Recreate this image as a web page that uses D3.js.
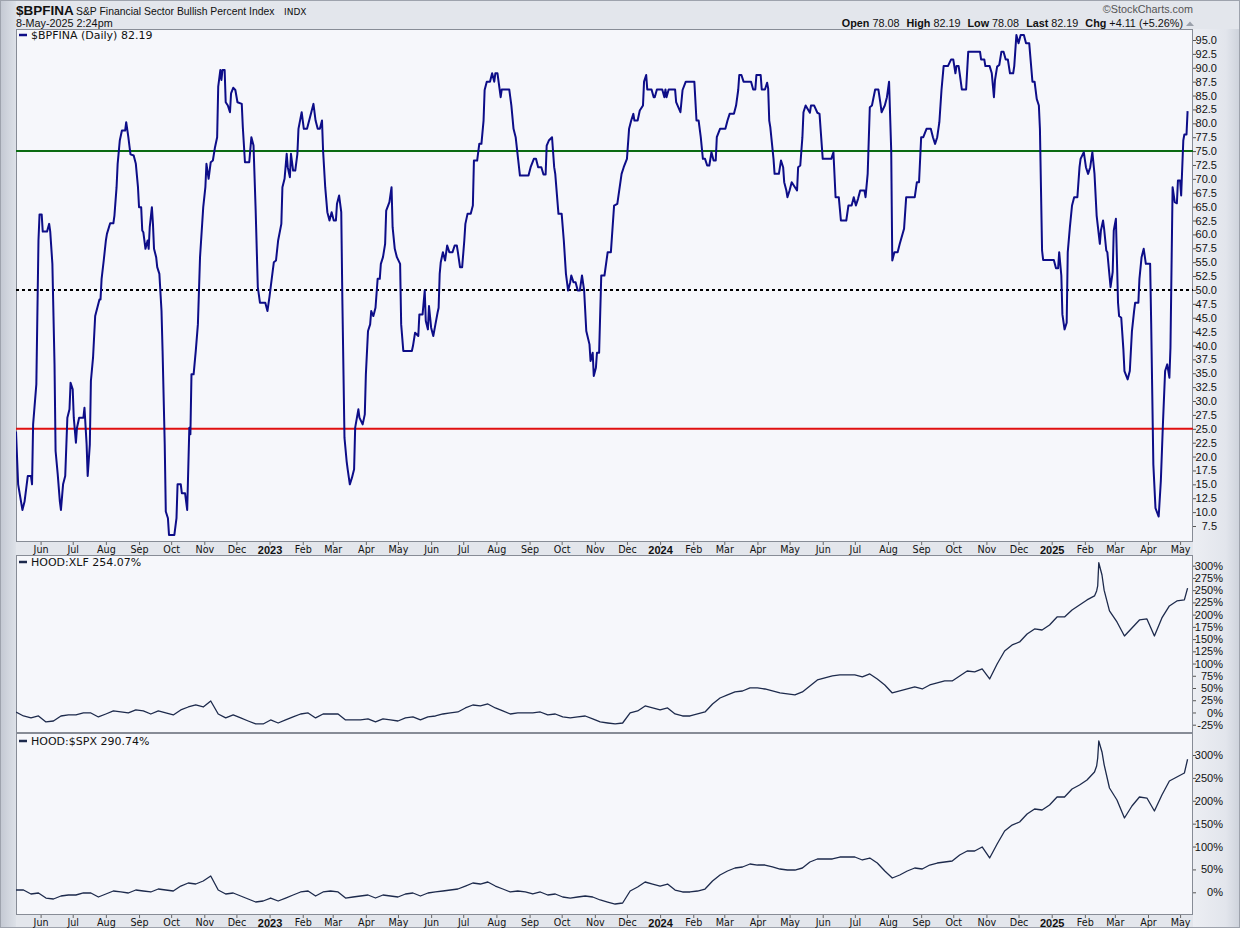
<!DOCTYPE html>
<html><head><meta charset="utf-8">
<script src="https://cdn.jsdelivr.net/npm/d3@7"></script>
<style>
html,body{margin:0;padding:0;background:#dfe2e9;}
svg{display:block;}
</style></head><body>
<svg id="chart" width="1240" height="928"></svg>
<script>
// ---------------- DATA ----------------
const bp2022 = [
["2022-05-09",24.5],["2022-05-11",15.0],["2022-05-15",10.4],["2022-05-17",11.9],["2022-05-20",16.5],["2022-05-23",16.5],["2022-05-24",15.0],["2022-05-25",25.8],["2022-05-28",33.0],["2022-05-30",58.9],["2022-05-31",63.6],
["2022-06-02",63.6],["2022-06-03",60.5],["2022-06-07",60.5],["2022-06-09",61.9],["2022-06-10",60.5],["2022-06-12",54.7],["2022-06-14",36.6],["2022-06-15",21.0],["2022-06-17",16.8],["2022-06-19",11.9],["2022-06-20",10.4],["2022-06-22",15.0],["2022-06-24",16.5],["2022-06-26",27.0],["2022-06-28",28.5],["2022-06-29",33.3],
["2022-07-01",32.1],["2022-07-02",27.0],["2022-07-04",22.5],["2022-07-05",25.2],["2022-07-07",27.0],["2022-07-11",27.0],["2022-07-12",28.8],["2022-07-14",22.2],["2022-07-15",16.5],["2022-07-17",22.2],["2022-07-18",33.6],["2022-07-20",37.8],["2022-07-22",45.3],["2022-07-24",46.8],["2022-07-26",48.3],["2022-07-27",48.3],["2022-07-28",52.0],["2022-07-30",55.3],
["2022-08-01",58.9],["2022-08-02",60.1],["2022-08-05",62.0],["2022-08-08",62.0],["2022-08-09",63.4],["2022-08-11",68.5],["2022-08-12",72.7],["2022-08-14",76.9],["2022-08-16",78.7],["2022-08-19",78.7],["2022-08-20",80.2],["2022-08-22",77.5],["2022-08-24",74.4],["2022-08-27",74.2],["2022-08-29",72.7],["2022-08-31",68.5],
["2022-09-01",64.9],["2022-09-03",64.9],["2022-09-04",60.7],["2022-09-05",60.4],["2022-09-07",57.4],["2022-09-09",58.9],["2022-09-10",57.4],["2022-09-11",61.3],["2022-09-13",64.9],["2022-09-14",61.9],["2022-09-15",57.4],["2022-09-17",55.9],["2022-09-18",54.1],["2022-09-20",52.9],["2022-09-22",46.2],["2022-09-23",39.0],["2022-09-25",22.2],["2022-09-26",10.1],["2022-09-28",8.9],["2022-09-29",5.9],
["2022-10-04",5.9],["2022-10-06",8.9],["2022-10-07",15.0],["2022-10-10",15.0],["2022-10-11",13.4],["2022-10-14",13.4],["2022-10-16",10.4],["2022-10-18",25.2],["2022-10-19",24.0],["2022-10-20",34.8],["2022-10-22",34.8],["2022-10-24",39.0],["2022-10-26",43.8],["2022-10-28",55.9],["2022-10-29",58.9],["2022-10-31",64.9],
["2022-11-02",68.5],["2022-11-03",72.7],["2022-11-05",70.0],["2022-11-07",73.0],["2022-11-09",73.3],["2022-11-11",75.7],["2022-11-13",77.5],["2022-11-14",86.6],["2022-11-16",89.6],["2022-11-17",87.8],["2022-11-18",89.6],["2022-11-20",89.6],["2022-11-21",83.8],["2022-11-23",83.2],["2022-11-25",82.0],["2022-11-26",85.4],["2022-11-28",86.4],["2022-11-30",86.0],
["2022-12-02",83.8],["2022-12-06",83.5],["2022-12-07",79.3],["2022-12-09",73.0],["2022-12-13",73.0],["2022-12-15",77.5],["2022-12-17",76.0],["2022-12-19",64.3],["2022-12-21",50.5],["2022-12-23",47.7],["2022-12-28",47.7],["2022-12-30",46.2]
];
const bp2023 = [
["2023-01-01",48.9],["2023-01-03",52.0],["2023-01-05",55.0],["2023-01-07",55.3],["2023-01-09",58.9],["2023-01-12",61.9],["2023-01-13",68.5],["2023-01-15",70.0],["2023-01-17",74.5],["2023-01-18",72.1],["2023-01-20",70.3],["2023-01-21",74.5],["2023-01-23",71.5],["2023-01-25",71.5],["2023-01-27",74.5],["2023-01-28",79.0],["2023-01-31",82.0],
["2023-02-02",79.0],["2023-02-05",79.0],["2023-02-07",80.5],["2023-02-09",82.0],["2023-02-11",83.5],["2023-02-13",80.5],["2023-02-15",79.0],["2023-02-17",79.0],["2023-02-19",80.5],["2023-02-20",75.1],["2023-02-22",68.5],["2023-02-24",64.0],["2023-02-26",62.5],["2023-02-28",64.0],
["2023-03-02",62.5],["2023-03-04",62.5],["2023-03-05",65.5],["2023-03-07",67.0],["2023-03-09",64.0],["2023-03-10",48.6],["2023-03-12",23.4],["2023-03-14",19.2],["2023-03-15",17.7],["2023-03-17",15.0],["2023-03-19",16.2],["2023-03-21",17.7],["2023-03-22",25.2],["2023-03-25",28.5],["2023-03-26",27.0],["2023-03-29",25.8],["2023-03-31",27.6],
["2023-04-01",34.8],["2023-04-03",42.6],["2023-04-05",43.8],["2023-04-06",46.2],["2023-04-08",45.3],["2023-04-10",46.8],["2023-04-12",52.0],["2023-04-14",52.0],["2023-04-15",54.7],["2023-04-17",55.9],["2023-04-19",58.3],["2023-04-20",64.3],["2023-04-23",65.8],["2023-04-25",68.5],["2023-04-26",61.3],["2023-04-28",57.4],["2023-04-30",55.9],
["2023-05-03",54.7],["2023-05-04",43.8],["2023-05-06",39.0],["2023-05-14",39.0],["2023-05-15",39.9],["2023-05-17",42.3],["2023-05-20",41.7],["2023-05-21",45.6],["2023-05-24",45.6],["2023-05-26",49.9],["2023-05-27",44.4],["2023-05-29",42.9],["2023-05-30",47.1],
["2023-06-01",43.2],["2023-06-03",41.7],["2023-06-05",43.8],["2023-06-07",45.9],["2023-06-08",46.8],["2023-06-09",52.9],["2023-06-10",55.0],["2023-06-12",56.8],["2023-06-14",55.3],["2023-06-16",58.0],["2023-06-18",56.8],["2023-06-21",56.8],["2023-06-23",58.0],["2023-06-25",58.0],["2023-06-26",56.8],["2023-06-28",54.1],["2023-06-30",54.1],
["2023-07-02",58.9],["2023-07-03",61.9],["2023-07-05",63.7],["2023-07-08",63.7],["2023-07-10",65.2],["2023-07-11",73.3],["2023-07-14",73.3],["2023-07-16",76.3],["2023-07-18",76.3],["2023-07-20",80.5],["2023-07-21",86.0],["2023-07-23",87.5],["2023-07-26",87.5],["2023-07-28",89.0],["2023-07-30",87.5],["2023-07-31",89.0],
["2023-08-02",89.0],["2023-08-05",84.7],["2023-08-06",86.1],["2023-08-13",86.1],["2023-08-15",83.2],["2023-08-17",79.0],["2023-08-19",77.5],["2023-08-23",70.6],["2023-08-31",70.6],
["2023-09-02",72.1],["2023-09-05",73.6],["2023-09-07",73.6],["2023-09-09",72.1],["2023-09-12",72.1],["2023-09-14",70.8],["2023-09-16",70.8],["2023-09-17",76.0],["2023-09-19",76.9],["2023-09-22",77.5],["2023-09-24",72.1],["2023-09-25",70.9],["2023-09-28",63.7],
["2023-10-01",63.7],["2023-10-03",58.9],["2023-10-05",52.9],["2023-10-07",49.9],["2023-10-09",51.4],["2023-10-10",52.6],["2023-10-12",51.4],["2023-10-14",51.4],["2023-10-16",49.9],["2023-10-18",49.9],["2023-10-20",52.6],["2023-10-22",49.9],["2023-10-24",42.6],["2023-10-27",40.2],["2023-10-28",37.2],["2023-10-30",38.7],["2023-10-31",34.5],
["2023-11-02",36.0],["2023-11-03",38.7],["2023-11-05",38.7],["2023-11-07",52.6],["2023-11-10",52.6],["2023-11-13",56.8],["2023-11-16",56.8],["2023-11-19",65.2],["2023-11-22",65.5],["2023-11-26",70.9],["2023-11-28",72.1],
["2023-12-01",73.6],["2023-12-03",79.0],["2023-12-05",80.5],["2023-12-07",81.7],["2023-12-08",80.5],["2023-12-11",80.5],["2023-12-13",82.3],["2023-12-16",83.2],["2023-12-17",87.5],["2023-12-19",88.7],["2023-12-20",86.1],["2023-12-24",86.1],["2023-12-26",84.7],["2023-12-27",84.7],["2023-12-29",86.1]
];
const bp2024 = [
["2024-01-03",86.1],["2024-01-05",84.7],["2024-01-06",86.1],["2024-01-07",84.7],["2024-01-09",86.1],["2024-01-15",86.1],["2024-01-16",83.8],["2024-01-20",82.0],["2024-01-22",86.0],["2024-01-25",87.5],
["2024-02-02",87.5],["2024-02-04",80.5],["2024-02-06",80.5],["2024-02-08",77.5],["2024-02-10",73.6],["2024-02-12",73.6],["2024-02-14",72.4],["2024-02-16",72.4],["2024-02-18",74.8],["2024-02-20",73.3],["2024-02-22",73.3],["2024-02-23",77.5],["2024-02-26",79.0],
["2024-03-02",79.0],["2024-03-04",80.5],["2024-03-06",81.7],["2024-03-10",81.7],["2024-03-12",83.2],["2024-03-14",86.0],["2024-03-15",88.7],["2024-03-17",88.7],["2024-03-19",87.5],["2024-03-26",87.5],["2024-03-28",86.1],["2024-03-30",86.1],["2024-03-31",88.7],
["2024-04-04",88.7],["2024-04-05",86.1],["2024-04-08",86.1],["2024-04-10",87.3],["2024-04-11",86.3],["2024-04-12",80.5],["2024-04-13",79.3],["2024-04-16",73.6],["2024-04-17",70.9],["2024-04-21",70.9],["2024-04-23",73.3],["2024-04-25",72.1],["2024-04-26",69.4],["2024-04-28",67.9],["2024-04-29",66.7],
["2024-05-01",67.9],["2024-05-03",69.4],["2024-05-08",67.9],["2024-05-09",72.1],["2024-05-11",72.4],["2024-05-13",77.5],["2024-05-14",82.0],["2024-05-16",83.2],["2024-05-20",81.9],["2024-05-21",83.2],["2024-05-24",83.2],["2024-05-27",81.9],["2024-05-29",81.7],
["2024-06-01",73.6],["2024-06-09",73.6],["2024-06-11",74.8],["2024-06-13",66.7],["2024-06-16",66.7],["2024-06-18",62.5],["2024-06-23",62.5],["2024-06-25",65.2],["2024-06-28",65.2],["2024-06-30",66.7],
["2024-07-02",65.2],["2024-07-04",66.4],["2024-07-06",67.9],["2024-07-10",67.9],["2024-07-11",66.7],["2024-07-13",70.9],["2024-07-15",82.9],["2024-07-17",83.2],["2024-07-20",86.1],["2024-07-23",86.1],["2024-07-25",83.5],["2024-07-26",82.0],["2024-07-29",83.2],["2024-07-31",84.7],
["2024-08-02",87.5],["2024-08-04",75.1],["2024-08-05",55.3],["2024-08-07",56.8],["2024-08-10",56.8],["2024-08-12",58.3],["2024-08-16",61.0],["2024-08-18",66.7],["2024-08-26",66.7],["2024-08-28",69.4],["2024-08-30",69.4],
["2024-09-01",77.5],["2024-09-03",77.5],["2024-09-06",79.0],["2024-09-10",79.0],["2024-09-12",77.5],["2024-09-14",76.3],["2024-09-16",77.5],["2024-09-18",80.2],["2024-09-20",86.0],["2024-09-22",90.3],["2024-09-26",90.3],["2024-09-29",91.5],
["2024-10-01",91.5],["2024-10-03",89.0],["2024-10-04",90.3],["2024-10-06",90.3],["2024-10-07",89.0],["2024-10-09",86.1],["2024-10-13",86.1],["2024-10-15",92.9],["2024-10-26",92.9],["2024-10-27",91.5],["2024-10-30",91.5],["2024-10-31",90.3],
["2024-11-04",90.3],["2024-11-06",89.0],["2024-11-08",84.7],["2024-11-09",87.8],["2024-11-11",90.2],["2024-11-13",90.5],["2024-11-15",92.9],["2024-11-17",92.9],["2024-11-19",91.5],["2024-11-21",91.5],["2024-11-23",89.0],["2024-11-26",89.0],["2024-11-27",90.3],["2024-11-29",95.9],
["2024-12-01",94.4],["2024-12-03",95.9],["2024-12-06",95.9],["2024-12-08",94.4],["2024-12-11",94.4],["2024-12-14",87.5],["2024-12-16",87.5],["2024-12-18",84.4],["2024-12-20",83.2],["2024-12-21",79.0],["2024-12-23",57.1],["2024-12-24",55.4]
];
const bp2025 = [
["2025-01-03",55.4],["2025-01-05",53.9],["2025-01-07",53.9],["2025-01-08",56.8],["2025-01-10",52.6],["2025-01-11",45.6],["2025-01-13",42.9],["2025-01-15",44.1],["2025-01-16",56.8],["2025-01-18",61.3],["2025-01-20",65.2],["2025-01-22",66.7],["2025-01-25",66.7],["2025-01-27",72.1],["2025-01-28",73.6],["2025-01-31",74.8],
["2025-02-02",72.1],["2025-02-04",70.9],["2025-02-06",72.1],["2025-02-08",74.8],["2025-02-10",70.9],["2025-02-12",63.4],["2025-02-15",58.3],["2025-02-16",60.7],["2025-02-18",62.5],["2025-02-19",61.0],["2025-02-21",57.1],["2025-02-22",56.8],["2025-02-24",52.6],["2025-02-25",50.5],["2025-02-27",53.2],["2025-02-28",60.7],
["2025-03-02",62.8],["2025-03-04",47.7],["2025-03-05",45.3],["2025-03-07",45.0],["2025-03-09",39.3],["2025-03-10",35.4],["2025-03-13",33.9],["2025-03-15",35.4],["2025-03-17",42.6],["2025-03-19",46.2],["2025-03-20",47.7],["2025-03-23",47.7],["2025-03-24",52.0],["2025-03-26",55.9],["2025-03-28",57.4],["2025-03-30",54.7],
["2025-04-03",54.7],["2025-04-04",43.8],["2025-04-06",18.6],["2025-04-08",10.7],["2025-04-11",9.2],["2025-04-13",15.6],["2025-04-15",26.1],["2025-04-17",35.4],["2025-04-19",36.6],["2025-04-21",34.2],["2025-04-22",39.6],["2025-04-24",68.5],["2025-04-26",65.8],["2025-04-28",65.6],["2025-04-29",69.7],
["2025-05-01",69.7],["2025-05-02",67.0],["2025-05-04",76.9],["2025-05-05",78.0],["2025-05-07",78.0],["2025-05-08",82.19]
];

// weekly sample dates for the two HOOD ratio panels
const ratioDates = [
"2022-05-09","2022-05-16","2022-05-23","2022-05-30","2022-06-06","2022-06-13","2022-06-20","2022-06-27","2022-07-04","2022-07-11","2022-07-18","2022-07-25","2022-08-01","2022-08-08","2022-08-15","2022-08-22","2022-08-29","2022-09-05","2022-09-12","2022-09-19","2022-09-26","2022-10-03","2022-10-10","2022-10-17","2022-10-24","2022-10-31","2022-11-07","2022-11-14","2022-11-21","2022-11-28","2022-12-05","2022-12-12","2022-12-19","2022-12-26",
"2023-01-02","2023-01-09","2023-01-16","2023-01-23","2023-01-30","2023-02-06","2023-02-13","2023-02-20","2023-02-27","2023-03-06","2023-03-13","2023-03-20","2023-03-27","2023-04-03","2023-04-10","2023-04-17","2023-04-24","2023-05-01","2023-05-08","2023-05-15","2023-05-22","2023-05-29","2023-06-05","2023-06-12","2023-06-19","2023-06-26","2023-07-03","2023-07-10","2023-07-17","2023-07-24","2023-07-31","2023-08-07","2023-08-14","2023-08-21","2023-08-28","2023-09-04","2023-09-11","2023-09-18","2023-09-25","2023-10-02","2023-10-09","2023-10-16","2023-10-23","2023-10-30","2023-11-06","2023-11-13","2023-11-20","2023-11-27","2023-12-04","2023-12-11","2023-12-18","2023-12-25",
"2024-01-01","2024-01-08","2024-01-15","2024-01-22","2024-01-29","2024-02-05","2024-02-12","2024-02-19","2024-02-26","2024-03-04","2024-03-11","2024-03-18","2024-03-25","2024-04-01","2024-04-08","2024-04-15","2024-04-22","2024-04-29","2024-05-06","2024-05-13","2024-05-20","2024-05-27","2024-06-03","2024-06-10","2024-06-17","2024-06-24","2024-07-01","2024-07-08","2024-07-15","2024-07-22","2024-07-29","2024-08-05","2024-08-12","2024-08-19","2024-08-26","2024-09-02","2024-09-09","2024-09-16","2024-09-23","2024-09-30","2024-10-07","2024-10-14","2024-10-21","2024-10-28","2024-11-04","2024-11-11","2024-11-18","2024-11-25","2024-12-02","2024-12-09","2024-12-16","2024-12-23","2024-12-30",
"2025-01-06","2025-01-13","2025-01-20","2025-01-27","2025-02-03","2025-02-10","2025-02-12","2025-02-13","2025-02-14","2025-02-17","2025-02-19","2025-02-24","2025-03-03","2025-03-10","2025-03-17","2025-03-24","2025-03-31","2025-04-07","2025-04-14","2025-04-21","2025-04-28","2025-05-05","2025-05-08"
];
const hoodXlf = [
1.0,-7.2,-11.2,-7.2,-19.4,-17.4,-7.2,-5.1,-5.1,-1.0,
-1.0,-9.2,-3.1,3.1,1.0,-1.0,5.1,3.1,-3.1,3.1,
-1.0,-5.1,5.1,11.2,15.3,11.2,23.5,-3.1,-11.2,-5.1,
-11.2,-17.4,-23.5,-23.5,-15.3,-21.5,-15.3,-9.2,-3.1,-1.0,
-11.2,-3.1,-3.1,-3.1,-15.3,-15.3,-15.3,-13.3,-19.4,-13.3,
-15.3,-17.4,-11.2,-9.2,-15.3,-9.2,-7.2,-3.1,-1.0,1.0,
9.2,15.3,13.3,17.4,9.2,3.1,-3.1,-1.0,-1.0,-1.0,
1.0,-5.1,-3.1,-9.2,-11.2,-9.2,-7.2,-13.3,-19.4,-21.5,
-23.5,-21.5,-1.0,3.1,13.3,9.2,5.1,9.2,-3.1,-7.2,
-7.2,-3.1,1.0,17.4,29.6,35.8,41.9,43.9,50.1,50.1,
48.0,43.9,39.9,37.8,35.8,41.9,54.2,66.4,70.5,74.6,
76.7,76.7,76.7,72.6,78.7,68.5,56.2,39.9,43.9,48.0,
52.1,48.0,56.2,60.3,64.4,64.4,74.6,84.8,82.8,88.9,
68.5,99.1,125.7,138.0,144.1,160.5,170.7,168.6,178.9,195.2,
195.2,209.5,219.7,230.0,238.2,248.4,258.6,306.0,281.0,250.0,
207.5,185.0,156.4,172.7,189.1,191.1,156.4,193.2,217.7,227.9,230.0,
254.07
];
const hoodSpx = [
5.0,5.0,-3.7,-1.5,-12.5,-14.6,-8.1,-5.9,-5.9,-1.5,
-1.5,-10.3,-3.7,2.8,0.7,-1.5,5.0,2.8,0.7,7.2,
5.0,2.8,13.7,20.3,18.1,24.7,35.6,5.0,-3.7,-1.5,
-8.1,-14.6,-21.2,-19.0,-12.5,-19.0,-12.5,-5.9,0.7,2.8,
-8.1,0.7,2.8,0.7,-12.5,-10.3,-8.1,-5.9,-12.5,-5.9,
-8.1,-10.3,-3.7,-1.5,-8.1,-1.5,0.7,2.8,5.0,7.2,
13.7,20.3,18.1,22.5,13.7,7.2,0.7,2.8,0.7,-3.7,
0.7,-5.9,-3.7,-10.3,-12.5,-10.3,-8.1,-10.3,-16.8,-21.2,
-25.6,-23.4,2.8,11.6,22.5,18.1,13.7,18.1,5.0,0.7,
0.7,2.8,7.2,24.7,37.8,46.5,53.1,55.3,61.8,59.6,
59.6,55.3,50.9,48.7,48.7,53.1,66.2,72.8,72.8,72.8,
77.1,77.1,77.1,70.6,74.9,64.0,46.5,31.2,37.8,46.5,
53.1,50.9,59.6,64.0,66.2,68.4,81.5,90.2,90.2,99.0,
75.0,105.5,133.9,147.0,153.6,171.1,182.0,179.8,190.7,208.2,
208.2,225.7,234.4,245.4,262.8,276.0,293.4,330.6,306.6,279.0,
227.9,201.7,162.3,188.6,208.2,206.0,177.6,212.6,243.2,251.9,260.6,
290.74
];

const bpTicks = [7.5,10,12.5,15,17.5,20,22.5,25,27.5,30,32.5,35,37.5,40,42.5,45,47.5,50,52.5,55,57.5,60,62.5,65,67.5,70,72.5,75,77.5,80,82.5,85,87.5,90,92.5,95];
const xlfTicks = [-25,0,25,50,75,100,125,150,175,200,225,250,275,300];
const spxTicks = [0,50,100,150,200,250,300];
const refLevels = [{v:75,color:"#0b6b12",dash:null},{v:50,color:"#000000",dash:"3,3"},{v:25,color:"#e01010",dash:null}];
const ohlc = [["Open","78.08"],["High","82.19"],["Low","78.08"],["Last","82.19"],["Chg","+4.11 (+5.26%)"]];

// ---------------- LAYOUT ----------------
const parse = d3.timeParse("%Y-%m-%d");
const svg = d3.select("#chart");
const PL = 16, PR = 1193;
const x = d3.scaleTime().domain([parse("2022-05-09"), parse("2025-05-14")]).range([16, 1194]);

const pMain = {top:29, bottom:542};
const pXlf = {top:555, bottom:733};
const pSpx = {top:733, bottom:915};

const yMain = d3.scaleLinear().domain([7.5,95]).range([526,40]);
const yXlf = d3.scaleLinear().domain([-25,300]).range([724.7,565.7]);
const ySpx = d3.scaleLinear().domain([0,300]).range([892.3,755]);

const defs = svg.append("defs");
const gr = defs.append("linearGradient").attr("id","axisbg").attr("x1","0").attr("x2","1").attr("y1","0").attr("y2","0");
gr.append("stop").attr("offset","0").attr("stop-color","#eceef3");
gr.append("stop").attr("offset","0.7").attr("stop-color","#e2e5ec");
gr.append("stop").attr("offset","1").attr("stop-color","#cdd2db");
const gl = defs.append("linearGradient").attr("id","leftbg").attr("x1","0").attr("x2","1");
gl.append("stop").attr("offset","0").attr("stop-color","#c3c8d2");
gl.append("stop").attr("offset","1").attr("stop-color","#dde1e8");

// backgrounds
svg.append("rect").attr("width",1240).attr("height",928).attr("fill","#e3e6ec");
svg.append("rect").attr("x",0).attr("y",0).attr("width",16).attr("height",928).attr("fill","url(#leftbg)");
svg.append("rect").attr("x",1193).attr("y",29).attr("width",47).attr("height",899).attr("fill","url(#axisbg)");
svg.append("rect").attr("x",0.5).attr("y",0.5).attr("width",1239).attr("height",927).attr("fill","none").attr("stroke","#9ea3ad");

[pMain,pXlf,pSpx].forEach((p,i)=>{
  defs.append("clipPath").attr("id","clip"+i).append("rect")
    .attr("x",PL).attr("y",p.top).attr("width",PR-PL).attr("height",p.bottom-p.top);
  svg.append("rect").attr("x",PL+0.5).attr("y",p.top+0.5).attr("width",PR-PL-1).attr("height",p.bottom-p.top-1)
    .attr("fill","#f6f7fb").attr("stroke","#878c96");
});

// header
const FS = "Liberation Sans, Arial, sans-serif";
const FD = "DejaVu Sans, Verdana, sans-serif";
svg.append("text").attr("x",16).attr("y",15).attr("font-family",FS).attr("font-weight","bold").attr("font-size",13.5).attr("fill","#111").text("$BPFINA");
svg.append("text").attr("x",76).attr("y",15).attr("font-family",FS).attr("font-size",10.4).attr("fill","#111").text("S&P Financial Sector Bullish Percent Index");
svg.append("text").attr("x",284).attr("y",15).attr("font-family",FD).attr("font-size",9).attr("fill","#111").text("INDX");
svg.append("text").attr("x",16).attr("y",27).attr("font-family",FS).attr("font-size",10.8).attr("fill","#111").text("8-May-2025 2:24pm");
svg.append("text").attr("x",1193).attr("y",13).attr("text-anchor","end").attr("font-family",FS).attr("font-size",10.8).attr("fill","#555").text("\u00A9StockCharts.com");
const oh = svg.append("text").attr("x",1183).attr("y",27).attr("text-anchor","end").attr("font-family",FS).attr("font-size",10.8).attr("fill","#111");
ohlc.forEach(([k,v],i)=>{
  oh.append("tspan").attr("font-weight","bold").attr("dx", i? 7:0).text(k+" ");
  oh.append("tspan").text(v);
});
svg.append("path").attr("d","M1186,26 L1190,21.5 L1194,26 Z").attr("fill","#9aa0aa");

// reference lines
const gMain = svg.append("g").attr("clip-path","url(#clip0)");
refLevels.forEach(r=>{
  gMain.append("line").attr("x1",PL).attr("x2",PR).attr("y1",yMain(r.v)).attr("y2",yMain(r.v))
    .attr("stroke",r.color).attr("stroke-width",2).attr("stroke-dasharray",r.dash);
});

// main series
const bpSeries = [...bp2022,...bp2023,...bp2024,...bp2025].map(([d,v])=>({date:parse(d),v}));
gMain.append("path").datum(bpSeries)
  .attr("d", d3.line().x(d=>x(d.date)).y(d=>yMain(d.v)))
  .attr("fill","none").attr("stroke","#0d0d88").attr("stroke-width",2).attr("stroke-linejoin","round");

// ratio panels
const rd = ratioDates.map(parse);
const xlfSeries = rd.map((d,i)=>({date:d,v:hoodXlf[i]}));
const spxSeries = rd.map((d,i)=>({date:d,v:hoodSpx[i]}));
svg.append("g").attr("clip-path","url(#clip1)").append("path").datum(xlfSeries)
  .attr("d", d3.line().x(d=>x(d.date)).y(d=>yXlf(d.v)))
  .attr("fill","none").attr("stroke","#1d2a4c").attr("stroke-width",1.3).attr("stroke-linejoin","round");
svg.append("g").attr("clip-path","url(#clip2)").append("path").datum(spxSeries)
  .attr("d", d3.line().x(d=>x(d.date)).y(d=>ySpx(d.v)))
  .attr("fill","none").attr("stroke","#1d2a4c").attr("stroke-width",1.3).attr("stroke-linejoin","round");

// legends
function legend(y, color, txt){
  svg.append("line").attr("x1",19).attr("x2",27).attr("y1",y-4).attr("y2",y-4).attr("stroke",color).attr("stroke-width",2.5);
  svg.append("text").attr("x",31).attr("y",y).attr("font-family",FD).attr("font-size",11).attr("fill","#111").text(txt);
}
legend(39,"#0d0d88","$BPFINA (Daily) 82.19");
legend(566,"#1d2a4c","HOOD:XLF 254.07%");
legend(745,"#1d2a4c","HOOD:$SPX 290.74%");

// right axes
function rightAxis(scale, ticks, fmt, labelX){
  const g = svg.append("g").attr("transform",`translate(${PR},0)`)
    .call(d3.axisRight(scale).tickValues(ticks).tickSize(3).tickFormat(fmt));
  g.select(".domain").remove();
  g.selectAll(".tick line").attr("stroke","#555");
  g.selectAll(".tick text").attr("x",labelX).attr("text-anchor","end")
    .attr("font-family",FS).attr("font-size",11).attr("fill","#111");
}
rightAxis(yMain, bpTicks, d3.format(".1f"), 24);
rightAxis(yXlf, xlfTicks, d=>d+"%", 30);
rightAxis(ySpx, spxTicks, d=>d+"%", 30);

// date axes
const months = d3.timeMonth.range(parse("2022-06-01"), parse("2025-05-14"));
const fmtMonth = d3.timeFormat("%b"), fmtYear = d3.timeFormat("%Y");
function dateAxis(yPos){
  const g = svg.append("g").attr("transform",`translate(0,${yPos})`)
    .call(d3.axisBottom(x).tickValues(months).tickSize(3).tickFormat(d=>d.getMonth()===0?fmtYear(d):fmtMonth(d)));
  g.select(".domain").remove();
  g.selectAll(".tick line").attr("stroke","#666");
  g.selectAll(".tick text").attr("y",4).attr("dy","0.71em")
    .attr("font-family",d=>d.getMonth()===0?FS:FD)
    .attr("font-size",d=>d.getMonth()===0?11:9.6)
    .attr("font-weight",d=>d.getMonth()===0?"bold":"normal")
    .attr("fill","#111");
}
dateAxis(pMain.bottom);
dateAxis(pSpx.bottom);
</script>
</body></html>
